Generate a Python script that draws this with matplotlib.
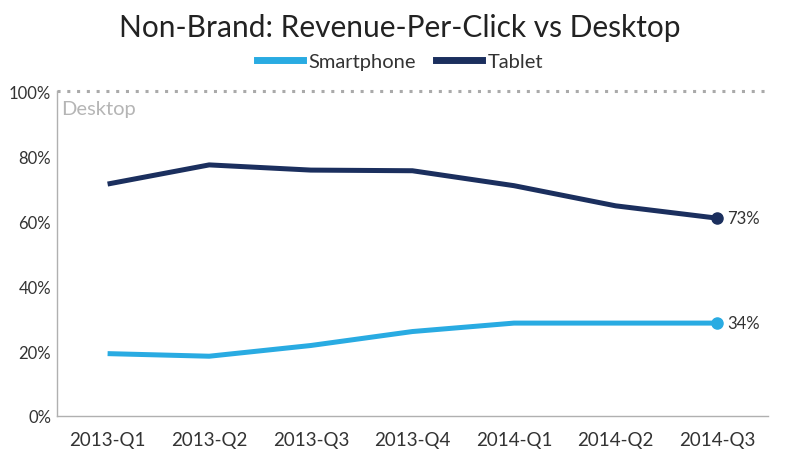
import matplotlib

matplotlib.use("Agg")
import matplotlib.pyplot as plt
from matplotlib.lines import Line2D

QUARTERS = ["2013-Q1", "2013-Q2", "2013-Q3", "2013-Q4", "2014-Q1", "2014-Q2", "2014-Q3"]
SMARTPHONE = [0.192, 0.184, 0.217, 0.260, 0.286, 0.286, 0.286]
TABLET = [0.714, 0.773, 0.757, 0.755, 0.709, 0.647, 0.609]
END_LABELS = {"Smartphone": "34%", "Tablet": "73%"}
Y_TICKS = [0.0, 0.2, 0.4, 0.6, 0.8, 1.0]

SMART_COLOR = "#29abe2"
TABLET_COLOR = "#1b2f5e"

plt.rcParams["font.family"] = ["Lato", "DejaVu Sans"]

fig = plt.figure(figsize=(8.0, 4.77), dpi=100)
ax = fig.add_axes([0.071, 0.1258, 0.889, 0.681])

xs = list(range(len(QUARTERS)))
for name, vals, color in (("Smartphone", SMARTPHONE, SMART_COLOR), ("Tablet", TABLET, TABLET_COLOR)):
    ax.plot(xs, vals, color=color, linewidth=3.6, solid_capstyle="butt", solid_joinstyle="round")
    ax.plot(xs[-1], vals[-1], "o", color=color, markersize=8)
    ax.annotate(END_LABELS[name], (xs[-1], vals[-1]), xytext=(7, 0), textcoords="offset points",
                ha="left", va="center", fontsize=12, color="#333333")

ax.axhline(1.0, color="#aaaaaa", linestyle=(0, (1, 2.2)), linewidth=2.2, clip_on=False)
ax.text(0.006, 0.972, "Desktop", transform=ax.transAxes, ha="left", va="top",
        fontsize=14.5, color="#b5b5b5")

ax.set_xlim(-0.5, len(QUARTERS) - 0.5)
ax.set_ylim(0, 1.0)
ax.set_xticks(xs)
ax.set_xticklabels(QUARTERS)
ax.set_yticks(Y_TICKS)
ax.set_yticklabels([f"{int(round(t * 100))}%" for t in Y_TICKS])
ax.tick_params(axis="both", length=0, labelsize=12, labelcolor="#333333")
ax.tick_params(axis="x", pad=11, labelsize=13.5)
ax.tick_params(axis="y", pad=4)

for side in ("top", "right"):
    ax.spines[side].set_visible(False)
for side in ("left", "bottom"):
    ax.spines[side].set_color("#b0b0b0")
    ax.spines[side].set_linewidth(1.0)

fig.text(0.5, 0.941, "Non-Brand: Revenue-Per-Click vs Desktop", ha="center", va="center",
         fontsize=21.5, color="#222222")

handles = [Line2D([], [], color=SMART_COLOR, linewidth=5),
           Line2D([], [], color=TABLET_COLOR, linewidth=5)]
fig.legend(handles, ["Smartphone", "Tablet"], loc="center", bbox_to_anchor=(0.5, 0.87),
           ncol=2, frameon=False, fontsize=14.5, handlelength=2.3, handletextpad=0.25,
           columnspacing=1.0, labelcolor="#333333")

fig.savefig("out.png", dpi=100)
plt.close(fig)
